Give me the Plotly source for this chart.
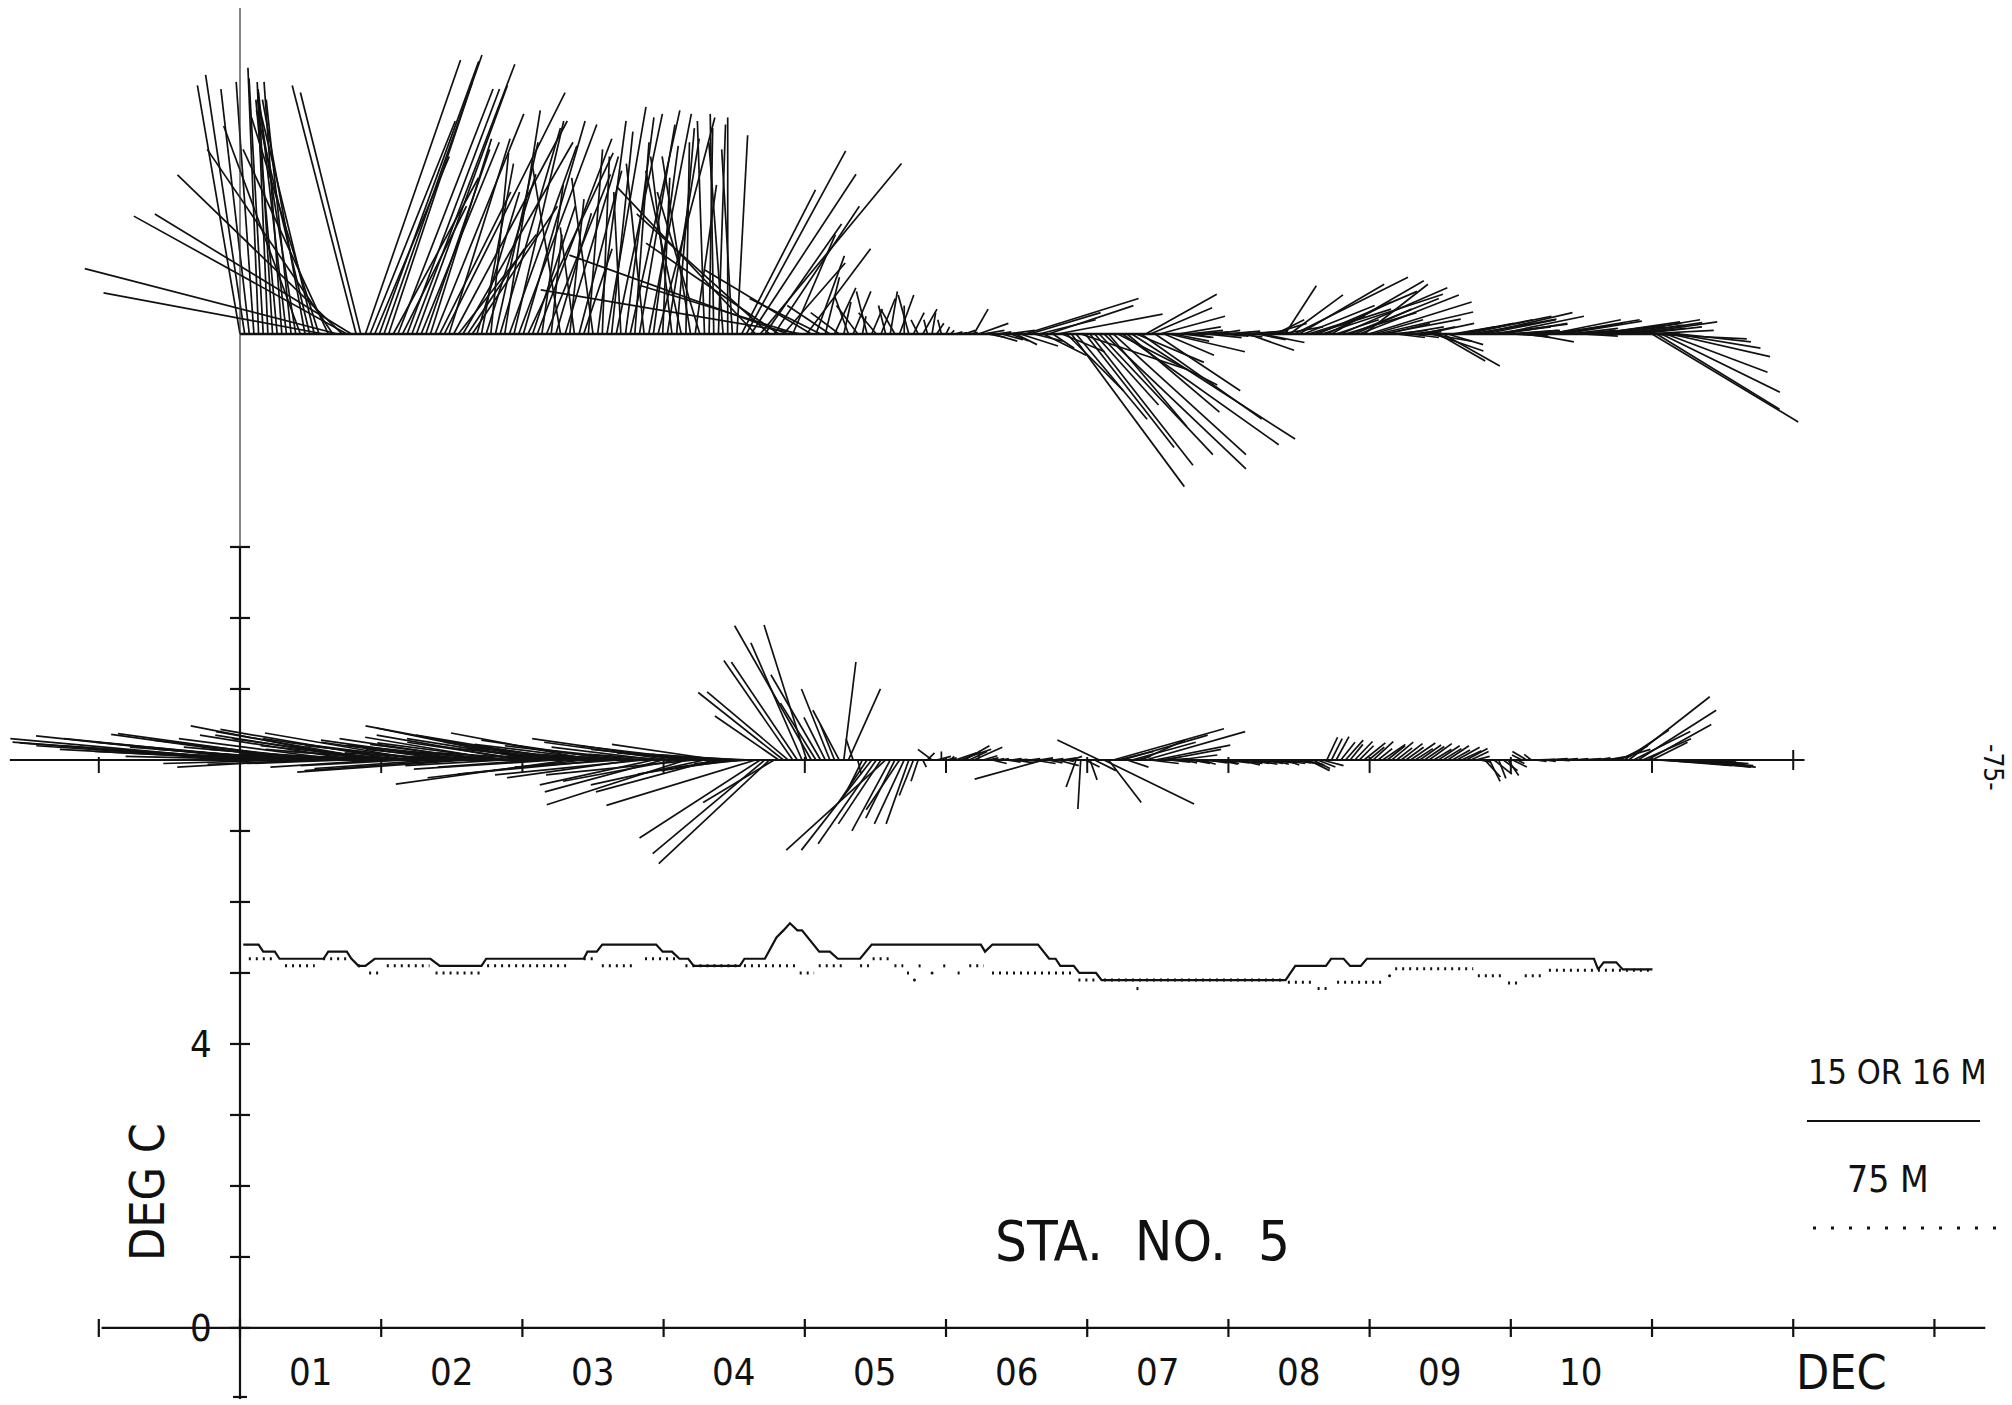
import plotly.graph_objects as go

# ---------------- data ----------------
MONTH_LABELS = ["01", "02", "03", "04", "05", "06", "07", "08", "09", "10"]
DEC_LABEL = "DEC"
DAYS_PER_MONTH = 30.4
Y_TICKS = list(range(0, 12))
Y_LABELS = {0: "0", 4: "4"}
X_TICK_MONTHS = list(range(-1, 13))
LO_TICK_MONTHS = list(range(-1, 11))

UP_BASE_T = 14.0   # baseline of the 15/16 m current sticks
LO_BASE_T = 8.0    # baseline of the 75 m current sticks

# daily current vectors (cm/s), upper (15 or 16 m), day 0 = Jan 1
UP_U = [
    -6.0, -5.5, -4.0, -2.5, -1.5, -2.0, -1.5, -2.0, -3.0, -2.5,
    -4.0, -3.5, -5.0, -10.8, -6.0, -7.5, -8.0, -9.5, -31.0, -12.0,
    -17.7, -35.6, -23.2, -30.0, -27.7, -9.0, -8.5, 13.4, 12.0, 10.5,
    14.0, 13.8, 11.8, 12.0, 13.4, 9.0, 13.0, 14.5, 12.8, 11.0,
    9.0, 8.6, 12.5, 10.0, 17.0, 8.6, 16.0, 11.0, 15.5, 8.0,
    12.0, 6.0, 4.5, 7.0, 2.5, 6.0, 8.5, 5.0, 9.5, 7.0,
    11.0, 8.7, 12.0, 6.0, 10.5, 3.0, 9.0, 1.5, 5.0, -4.0,
    7.5, 2.0, -2.0, 6.0, 4.0, 2.0, -3.0, 4.0, 1.0, 5.5,
    3.0, 6.5, -1.0, 4.0, 7.0, 2.0, 5.0, -2.5, 6.0, 3.5,
    8.0, 1.0, 4.5, -3.0, 2.5, -5.0, 0.5, -4.0, 3.0, -6.0,
    -1.0, 0.5, -0.5, 1.0, -2.0, 0.0, -1.5, 1.5, 10.4, 14.0,
    14.8, -19.6, 19.9, 10.8, -18.7, 12.0, -18.7, 8.7, -30.8, 6.0,
    -22.0, -36.8, 9.0, -15.0, 4.0, -10.0, 2.0, -6.0, 3.0, -4.0,
    1.0, -2.0, 2.5, -3.0, 0.5, -1.5, 1.5, -2.5, 2.0, -1.0,
    1.0, -2.0, 2.0, 0.0, -1.5, 1.5, -1.0, 2.0, -0.5, 0.5,
    1.0, -0.5, 0.5, 0.5, 1.0, 1.0, 1.5, 1.2, 2.0, 4.2,
    3.0, 2.5, 3.5, 2.0, 3.0, 4.0, 2.5, 3.0, 5.3, 16.0,
    10.0, 4.0, 8.0, 6.0, 12.0, 3.0, 14.8, 6.0, 8.0, 15.9,
    10.0, 15.0, 12.5, 14.5, 9.0, 16.0, 20.0, 11.0, 18.7, 14.0,
    22.0, 13.0, 23.0, 9.5, 17.0, 10.0, 8.7, 12.0, 9.2, 7.0,
    10.7, 5.0, 6.0, 4.0, 5.0, 3.0, 4.5, 3.0, 5.0, 4.0,
    3.5, 4.0, 5.0, 3.0, 4.0, 5.5, 4.0, 6.5, 5.0, 4.0,
    6.0, 3.0, 5.0, 4.0, 6.0, 4.4, 7.5, 16.0, 12.0, 10.0,
    8.0, 11.0, 14.0, 17.0, 9.0, 13.0, 6.0, 15.0, 10.0, 12.5,
    8.0, 14.0, 9.0, 14.5, 7.0, 13.4, 11.0, 6.0, 5.0, 4.0,
    6.0, 5.0, 4.0, 3.5, 5.0, 7.0, 6.0, 7.0, 6.6, 8.0,
    5.0, 6.0, 8.0, 10.0, 12.0, 9.0, 11.4, 13.0, 10.0, 11.0,
    8.0, 12.0, 9.0, 7.0, 5.0, 6.0, 4.0, 5.0, 6.0, 4.0,
    5.0, 8.0, 10.0, 12.0, 9.0, 11.0, 7.0, 6.0, 4.0, 5.0,
    7.0, 10.0, 11.8, 9.0, 8.0, 10.0, 12.0, 9.0, 11.0, 8.0,
    11.8, 9.0, 10.0, 14.0, 20.6, 17.3, 16.7, 14.3, 14.0, 12.0, 10.0,
]
UP_V = [
    35.0, 36.5, 34.5, 35.5, 37.5, 36.0, 35.5, 34.0, 33.0, 35.5,
    34.5, 33.0, 31.0, 29.3, 33.0, 31.5, 33.0, 30.5, 5.8, 26.0,
    26.0, 9.2, 22.4, 16.6, 16.9, 35.0, 34.0, 38.6, 30.0, 25.0,
    38.4, 39.3, 35.5, 22.0, 34.5, 18.0, 34.5, 38.0, 35.0, 27.0,
    26.0, 27.5, 31.0, 20.0, 34.0, 27.5, 30.0, 14.0, 27.0, 12.0,
    18.0, 20.0, 24.0, 22.5, 25.5, 27.0, 29.0, 31.5, 26.5, 30.0,
    29.5, 30.0, 25.5, 18.0, 27.5, 21.0, 22.5, 14.0, 17.0, 24.0,
    25.0, 19.0, 15.0, 23.0, 12.0, 26.0, 22.0, 30.0, 25.0, 32.0,
    28.5, 31.0, 20.0, 30.5, 31.5, 27.0, 29.5, 24.0, 31.0, 26.5,
    30.5, 22.0, 27.5, 25.0, 29.0, 23.0, 27.0, 25.0, 21.0, 20.0,
    30.0, 29.0, 31.0, 29.5, 27.0, 30.5, 26.0, 28.0, 20.3, 25.8,
    22.5, 20.8, 24.0, 15.5, 16.9, 18.0, 12.8, 10.0, 11.1, 14.0,
    6.8, 6.2, 12.0, 9.0, 11.0, 5.0, 8.0, 4.0, 6.5, 3.0,
    4.5, 5.5, 6.0, 4.0, 2.5, 6.0, 3.5, 3.0, 5.0, 4.0,
    6.0, 3.5, 5.5, 4.0, 5.5, 3.0, 2.0, 3.5, 2.0, 3.0,
    1.5, 2.0, 1.0, 0.5, 0.3, 0.2, 0.5, 0.2, 3.5, 1.5,
    0.5, -0.5, -1.0, 0.3, -0.8, 0.5, -1.0, -1.5, -1.7, 5.0,
    3.0, -1.0, 2.0, -3.0, 4.0, -2.0, 2.8, -2.5, -8.0, -21.5,
    -12.0, -5.0, -16.0, -18.5, -10.0, -17.0, -19.0, -13.0, -17.0, -7.2,
    -15.6, -11.0, -14.8, -4.0, -12.0, 5.6, 3.7, -8.0, 2.5, -3.0,
    -2.5, -1.0, 1.0, -0.5, 0.5, -0.5, 0.3, 0.2, -0.5, 0.0,
    0.5, -0.3, 0.4, 0.2, -0.4, 0.3, 0.0, -2.3, 0.5, -0.8,
    -1.2, 0.3, 1.5, 2.0, 1.0, 6.8, 5.5, 8.0, 7.0, 4.0,
    2.5, 3.5, 6.0, 5.6, 4.5, 7.5, 2.0, 6.5, 3.0, 5.0,
    3.5, 5.5, 7.0, 4.5, 2.0, 3.1, 2.1, 1.5, 0.5, -0.5,
    1.0, 0.3, -0.5, 0.5, 1.0, 1.5, -1.0, -2.4, -3.8, -4.5,
    -1.5, 1.0, 1.5, 2.0, 2.5, 1.5, 2.1, 3.0, 2.0, 1.4,
    1.0, 2.5, 1.5, 0.5, -0.3, 0.5, -0.5, 0.3, -1.1, 0.2,
    0.5, 1.0, 2.0, 2.0, 1.5, 1.8, 0.8, 0.5, 0.2, -0.3,
    0.5, 1.2, 1.7, 1.0, 0.5, 1.5, 2.0, 1.2, 1.6, 0.8,
    1.7, 1.0, 0.5, -0.7, -12.4, -10.6, -8.2, -5.4, -3.2, -2.0, -1.1,
]

# daily current vectors (cm/s), lower (75 m)
LO_U = [
    -31, -33, -30, -34, -28, -32, -29, -25, -30, -22,
    -27, -18, -26, -24, -18, -27, -22, -20, -24, -17,
    -21, -19, -23, -14, -20, -22, -17, -24.6, -21.8, -19,
    -23, -16, -22, -18, -25, -20, -15, -21, -18, -22,
    -16, -20, -17, -19, -14, -18, -21, -16, -20, -24,
    -15, -18, -20, -13, -17, -21, -19, -14, -18.6, -16,
    -20, -15, -17, -22, -14, -19, -25.5, -16, -20, -18,
    -21, -24.5, -15, -19, -22, -17, -20, -14, -18, -21,
    -16, -19, -15, -17, -13, -18, -14, -21, -12, -16,
    -15, -16.6, -11, -18, -16, -21, -19.6, -14, -21, -17,
    -16, -13, -16.6, -15, -12, -14, -10, -12, -9, -11,
    -8, -21, -17, -15.8, -15.6, -10, -9, -12, -11.4, -9.7,
    -9.3, -7.2, -6, -10.8, -5, -7, -3, -4, -2, -3.7,
    1.7, 4.5, -1, 0.5, -2, -4, -9.9, -8.2, -6, -14,
    -5.4, -4.1, -4.7, -4.2, -3.2, -2, -1, 0.5, 1, -2,
    2, 0, 1.5, 0.5, 3, 4.4, 3.5, 2.5, 4, 0.2,
    2, 1.5, 2, 1, 1, 2, 1.5, 2.5, 1, 2,
    1.5, 3, 2, -9.7, 2, 1.5, 3, 2, 1, 1.5,
    -1.4, -0.4, 2, 1, 3, -5.9, 12.7, 4.6, 15.6, 5,
    12, 3, 9, 2, 6.2, 14, 4, 10.6, 3, 8,
    3, 2, 5.5, 2, 3, 2.5, 3.5, 2, 3, 4,
    3, 2.5, 3.5, 2, 4, 3, 2.5, 3, 3.5, 2,
    3, 4, 2.5, 3, 3.5, 2, 3, 4, 2.5, 3,
    3, 2.4, 2.5, 3, 1.5, 1.5, 1.8, 2, 2.5, 1.8,
    2.5, 2, 3, 2.2, 2.8, 2, 3.2, 2.5, 3, 2.2,
    3, 2.5, 3.5, 2.5, 3, 2.8, 3.2, 2.5, 3, 2.6,
    3, 2.5, 3.2, 2.8, 3, 2.5, 2, 1.5, 2.2, 1.5,
    2.5, 1, 2, 1.5, 2, 1, -1.4, -2, -1, 1.5,
    2, 1.5, 2.5, 2, 1.5, 2, 2.5, 2, 1.5, 2,
    2, 2.5, 2, 3, 2.5, 3, 5, 4, 6.3, 11.4,
    8, 11, 6.8, 9, 5, 8, 10, 9, 12, 11,
    10, 9, 8, 7, 6, 5, 4,
]
LO_V = [
    2.4, 3.0, 2.0, 2.5, 1.5, 3.4, 2.0, 1.2, 3.0, 0.5,
    2.5, -0.5, 3.6, 1.8, -1.0, 3.7, 1.5, 0.8, 2.8, -0.6,
    1.8, 0.5, 3.0, -0.5, 1.5, 3.5, 0.8, 4.8, 3.5, 1.0,
    4.0, -1.0, 3.0, 1.5, 4.3, 2.0, -0.8, 3.0, 1.2, 3.8,
    0.5, 2.5, -1.2, 2.0, 0.3, 2.5, -1.5, 1.0, 2.8, -1.7,
    1.5, 2.0, 3.0, 0.5, 2.2, 2.1, 3.2, -0.8, 2.4, 1.2,
    3.5, 0.5, 2.5, 4.5, -1.0, 3.0, 4.8, 1.0, -1.3, 2.0,
    3.5, -3.4, 1.5, 2.5, -2.5, 1.8, 3.8, 0.5, 2.2, -2.0,
    1.0, 2.8, -1.0, 2.0, 0.8, -2.5, 1.5, -2.1, 0.5, -3.5,
    1.8, -4.5, 0.8, 2.5, -3.0, 3.0, -6.3, 1.5, -2.1, 2.0,
    -3.5, 1.0, -4.5, 2.2, -2.0, 1.0, -1.5, 0.8, -1.0, 0.5,
    -0.5, -6.4, -11.0, -13.2, -14.6, -6.0, 6.2, 9.5, 9.6, 14.0,
    13.8, 16.5, 19.0, 18.9, 8.0, 12.0, 6.0, 10.0, 5.0, 7.0,
    13.8, 10.0, 3.0, -2.0, -4.0, -6.0, -12.7, -11.8, -9.0, -12.7,
    -10.0, -8.2, -7.0, -9.0, -9.0, -5.0, -3.0, -1.0, 1.0, 1.5,
    0.5, 1.2, 0.3, 0.5, 1.0, 1.5, 2.0, 1.2, 1.8, 1.3,
    0.6, 0.3, -0.5, 0.2, 0.2, -0.3, 0.2, -0.4, 0.1, -0.2,
    0.2, -0.5, 0.3, -2.7, -0.4, 0.2, -0.8, 0.3, -0.2, 0.5,
    -3.8, -6.9, -1.0, -2.8, -1.5, 2.8, -6.2, -6.0, 4.4, 1.2,
    3.5, -1.0, 2.5, 0.5, 2.8, 4.0, -0.5, 2.1, 0.4, 1.5,
    -0.3, 0.2, 0.7, -0.4, -0.3, -0.5, -0.2, -0.6, -0.4, -0.5,
    -0.3, -0.6, -0.4, -0.2, -0.5, -0.7, -0.3, -0.5, -0.6, -0.3,
    -0.5, -0.4, -0.6, -0.3, -0.5, -0.7, -0.4, -0.6, -0.5, -0.8,
    -1.5, -1.2, -1.0, -0.8, 3.2, 3.0, 3.3, 2.5, 2.8, 2.2,
    2.6, 2.0, 2.4, 1.8, 2.6, 1.6, 2.2, 2.0, 2.5, 1.7,
    2.3, 1.8, 2.4, 1.6, 2.1, 1.9, 2.3, 1.5, 2.0, 1.6,
    2.0, 1.4, 1.8, 1.3, 1.6, 1.2, 0.5, -0.3, -2.4, -3.0,
    -2.0, -2.6, -1.5, -2.2, -1.0, -0.5, 0.7, 1.2, 0.8, -0.2,
    0.1, -0.2, 0.2, 0.1, -0.1, 0.2, 0.1, 0.0, 0.2, 0.1,
    0.2, 0.1, 0.3, 0.2, 0.4, 0.6, 1.5, 2.0, 4.2, 8.9,
    4.0, 7.0, 3.0, 5.0, 2.5, -0.5, -0.8, -0.6, -1.0, -0.8,
    -1.0, -0.5, -0.8, -0.5, -0.6, -0.4, -0.3,
]

# temperature, 15 or 16 m (solid line), breakpoints (day, deg C)
SOLID_DAY = [0.7, 4.0, 5.0, 7.5, 8.5, 18, 19, 23, 24, 25.5, 27, 29, 41, 43, 52,
             53, 74, 74.8, 76.8, 78, 89.6, 91, 93, 94.6, 96.5, 97.7, 107.6, 108.6,
             113, 115.5, 117, 118.4, 120, 121, 124.7, 127, 128.7, 133.5, 136,
             159.5, 160.4, 162, 171.8, 174.2, 175.6, 176.6, 179.5, 180.7, 184.3,
             185.5, 225.1, 227.2, 233.8, 234.9, 237.6, 239, 241.3, 242.6, 291.5,
             292.4, 293.6, 296.3, 297.7, 304.1]
SOLID_T = [5.4, 5.4, 5.3, 5.3, 5.2, 5.2, 5.3, 5.3, 5.2, 5.1, 5.1, 5.2, 5.2, 5.1, 5.1,
           5.2, 5.2, 5.3, 5.3, 5.4, 5.4, 5.3, 5.3, 5.2, 5.2, 5.1, 5.1, 5.2,
           5.2, 5.5, 5.6, 5.7, 5.6, 5.6, 5.3, 5.3, 5.2, 5.2, 5.4,
           5.4, 5.3, 5.4, 5.4, 5.2, 5.2, 5.1, 5.1, 5.0, 5.0,
           4.9, 4.9, 5.1, 5.1, 5.2, 5.2, 5.1, 5.1, 5.2, 5.2,
           5.05, 5.15, 5.15, 5.05, 5.05]

# temperature, 75 m (dotted line), constant runs
DOT_START = [1.9, 9.7, 17.9, 25.4, 27.8, 31.6, 42.1, 53.2, 74, 77.9, 87.2, 95.9,
             108.5, 120.5, 124.6, 133.5, 136.2, 140.9, 143.6, 145.2, 146.1, 149,
             151.4, 154.5, 157, 161.9, 180.5, 186, 193, 225.6, 232, 236.2, 247.5,
             248.7, 266.5, 273, 276.6, 281.8]
DOT_END = [7.4, 16.1, 22.9, 26.6, 30.3, 40.8, 52.0, 70.5, 76.7, 85.3, 94, 107.6,
           119.9, 123.6, 130.4, 135.4, 140.3, 142.8, 144.5, 145.2, 147.5, 149,
           152.7, 155, 160.1, 179.9, 184.8, 224.1, 194, 231.4, 234.7, 246.3, 247.5,
           265.5, 272.2, 276, 280.9, 304.1]
DOT_T = [5.2, 5.1, 5.2, 5.1, 5.0, 5.1, 5.0, 5.1, 5.2, 5.1, 5.2, 5.1,
         5.1, 5.0, 5.1, 5.1, 5.2, 5.1, 5.0, 4.9, 5.1, 5.0,
         5.1, 5.0, 5.1, 5.0, 4.9, 4.9, 4.78, 4.87, 4.78, 4.87, 4.96,
         5.06, 4.96, 4.86, 4.96, 5.04]

# ---------------- layout geometry ----------------
W, H = 2012, 1405
XR = [-51.67, 381.5]      # days
YR = [-1.085, 18.704]     # deg C scale (shared by the stick panels)
PX_DAY = W / (XR[1] - XR[0])
PX_T = H / (YR[1] - YR[0])
CMS_TO_T = 0.1            # 10 cm/s per scale division
FONT = "Liberation Sans Narrow, DejaVu Sans Condensed, Liberation Sans, sans-serif"
INK = "#111111"


def dx(px):
    return px / PX_DAY


def dy(px):
    return px / PX_T


def sticks(base_t, us, vs):
    xs, ys = [], []
    for d, (u, v) in enumerate(zip(us, vs)):
        xs += [d, d + u * CMS_TO_T * PX_T / PX_DAY, None]
        ys += [base_t, base_t + v * CMS_TO_T, None]
    return xs, ys


fig = go.Figure()

# stick plots
for base, us, vs in ((UP_BASE_T, UP_U, UP_V), (LO_BASE_T, LO_U, LO_V)):
    xs, ys = sticks(base, us, vs)
    fig.add_trace(go.Scatter(x=xs, y=ys, mode="lines",
                             line=dict(color=INK, width=1.7), hoverinfo="skip"))

# baselines of stick plots
fig.add_trace(go.Scatter(x=[0, len(UP_U) - 1], y=[UP_BASE_T, UP_BASE_T], mode="lines",
                         line=dict(color=INK, width=2.4), hoverinfo="skip"))
lo_x = [-DAYS_PER_MONTH * 1.63, 11.08 * DAYS_PER_MONTH, None]
lo_y = [LO_BASE_T, LO_BASE_T, None]
for m in LO_TICK_MONTHS:
    lo_x += [m * DAYS_PER_MONTH, m * DAYS_PER_MONTH, None]
    lo_y += [LO_BASE_T + dy(3), LO_BASE_T - dy(13), None]
lo_x += [11 * DAYS_PER_MONTH, 11 * DAYS_PER_MONTH, None]
lo_y += [LO_BASE_T + dy(10), LO_BASE_T - dy(10), None]
fig.add_trace(go.Scatter(x=lo_x, y=lo_y, mode="lines",
                         line=dict(color=INK, width=2), hoverinfo="skip"))

# x axis with crossing ticks
ax_x = [-0.98 * DAYS_PER_MONTH, 12.36 * DAYS_PER_MONTH, None]
ax_y = [0, 0, None]
for m in X_TICK_MONTHS:
    ax_x += [m * DAYS_PER_MONTH, m * DAYS_PER_MONTH, None]
    ax_y += [dy(9), -dy(9), None]
# y axis with crossing ticks
ax_x += [0, 0, None]
ax_y += [dy(-71), 11.0, None]
for t in Y_TICKS:
    ax_x += [-dx(10), dx(10), None]
    ax_y += [t, t, None]
ax_x += [-dx(7), dx(7), None]
ax_y += [dy(-69), dy(-69), None]
fig.add_trace(go.Scatter(x=ax_x, y=ax_y, mode="lines",
                         line=dict(color=INK, width=2.2), hoverinfo="skip"))
fig.add_trace(go.Scatter(x=[0, 0], y=[11.0, YR[1] - dy(8)], mode="lines",
                         line=dict(color="#333333", width=1.2), hoverinfo="skip"))

# temperature curves
fig.add_trace(go.Scatter(x=SOLID_DAY, y=SOLID_T, mode="lines",
                         line=dict(color=INK, width=2.2), hoverinfo="skip"))
dx_l, dy_l, px_l, py_l = [], [], [], []
for s, e, t in zip(DOT_START, DOT_END, DOT_T):
    if e > s:
        dx_l += [s, e, None]
        dy_l += [t, t, None]
    else:
        px_l.append(s)
        py_l.append(t)
fig.add_trace(go.Scatter(x=dx_l, y=dy_l, mode="lines",
                         line=dict(color=INK, width=3, dash="2px,5px"), hoverinfo="skip"))
fig.add_trace(go.Scatter(x=px_l, y=py_l, mode="markers",
                         marker=dict(color=INK, size=3), hoverinfo="skip"))

# legend samples (paper coords)
shapes = [
    dict(type="line", xref="paper", yref="paper", x0=1807 / W, x1=1980 / W,
         y0=1 - 1121 / H, y1=1 - 1121 / H, line=dict(color=INK, width=2)),
    dict(type="line", xref="paper", yref="paper", x0=1813 / W, x1=2000 / W,
         y0=1 - 1228 / H, y1=1 - 1228 / H, line=dict(color=INK, width=3, dash="3px,15px")),
]


def label(x, y, text, size, xref="paper", yref="paper", angle=0):
    return dict(x=x, y=y, xref=xref, yref=yref, text=text, showarrow=False,
                xanchor="center", yanchor="middle", textangle=angle,
                font=dict(family=FONT, size=size, color=INK))


annotations = []
for i, lab in enumerate(MONTH_LABELS):
    annotations.append(label((i + 0.5) * DAYS_PER_MONTH, 1 - 1372 / H, lab, 38, xref="x"))
annotations.append(label(11.34 * DAYS_PER_MONTH, 1 - 1372 / H, DEC_LABEL, 48, xref="x"))
for t, lab in Y_LABELS.items():
    annotations.append(label(-dx(39), t, lab, 38, xref="x", yref="y"))
annotations += [
    label(147 / W, 1 - 1192 / H, "DEG C", 48, angle=-90),
    label(1142 / W, 1 - 1240 / H, "STA.  NO.  5", 56),
    label(1897 / W, 1 - 1072 / H, "15 OR 16 M", 34),
    label(1888 / W, 1 - 1179 / H, "75 M", 37),
    label(1993 / W, 1 - 767 / H, "-75-", 26, angle=90),
]

fig.update_layout(
    width=W, height=H, margin=dict(l=0, r=0, t=0, b=0),
    paper_bgcolor="white", plot_bgcolor="white", showlegend=False,
    xaxis=dict(range=XR, visible=False, fixedrange=True),
    yaxis=dict(range=YR, visible=False, fixedrange=True),
    shapes=shapes, annotations=annotations,
)

fig.write_html("out.html")
